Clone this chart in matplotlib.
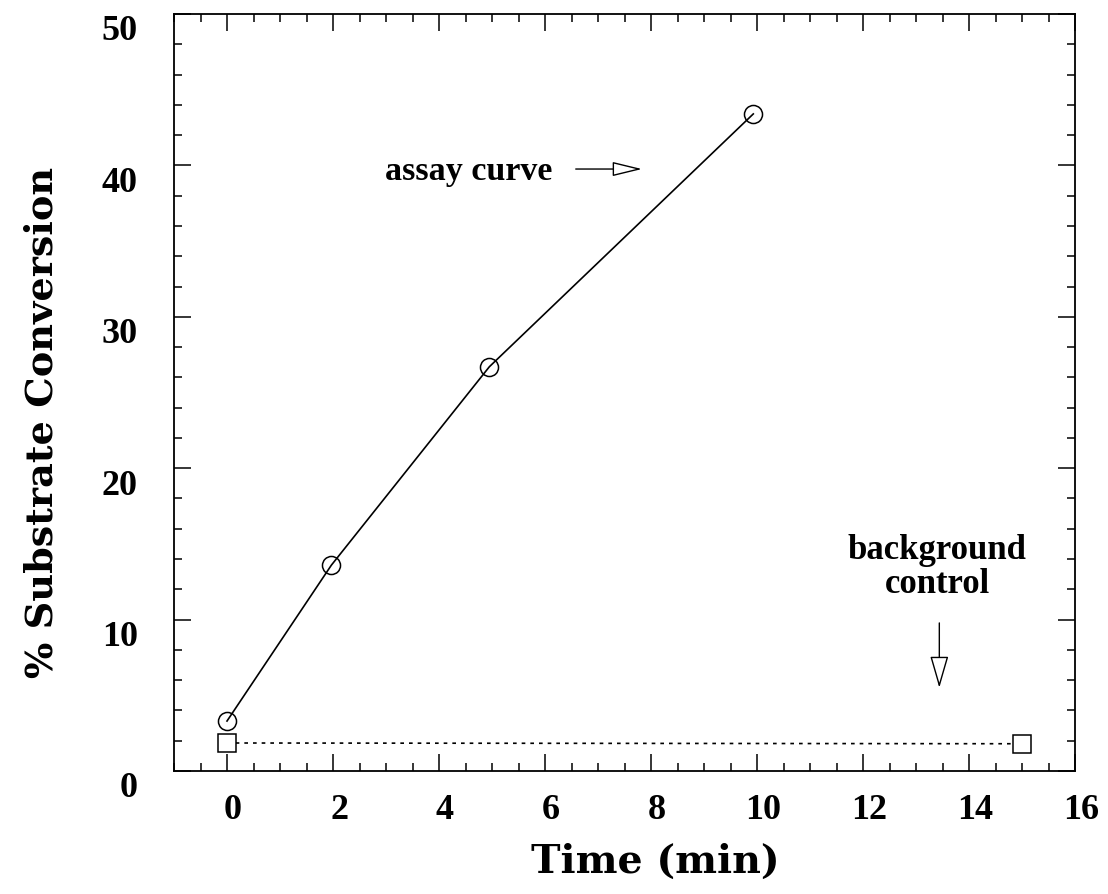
import matplotlib
matplotlib.use("Agg")
from matplotlib import pyplot as plt
from matplotlib.ticker import MultipleLocator
from matplotlib.transforms import ScaledTranslation

# values
assay_time = [0.0, 1.97, 4.95, 9.93]
assay_conv = [3.3, 13.6, 26.7, 43.4]
control_time = [0.0, 15.0]
control_conv = [1.85, 1.8]

plt.rcParams["font.family"] = ["Liberation Serif", "DejaVu Serif"]
plt.rcParams["font.weight"] = "bold"

fig = plt.figure(figsize=(11.08, 8.95), dpi=100)
ax = fig.add_axes([174 / 1108, 123 / 895, 901 / 1108, 757 / 895])

ax.plot(assay_time, assay_conv, color="black", linewidth=1.2, marker="o",
        markersize=13, markerfacecolor="none", markeredgecolor="black", markeredgewidth=1.1)
ax.plot(control_time, control_conv, color="black", linewidth=1.2, linestyle=(0, (2.2, 3.0)),
        marker="s", markersize=13, markerfacecolor="white", markeredgecolor="black",
        markeredgewidth=1.1)

ax.set_xlim(-1, 16)
ax.set_ylim(0, 50)
ax.xaxis.set_major_locator(MultipleLocator(2))
ax.xaxis.set_minor_locator(MultipleLocator(0.5))
ax.yaxis.set_major_locator(MultipleLocator(10))
ax.yaxis.set_minor_locator(MultipleLocator(2))

ax.tick_params(which="both", direction="in", top=True, right=True, width=1.1, color="black")
ax.tick_params(which="major", length=12)
ax.tick_params(which="minor", length=6)
ax.tick_params(axis="x", which="major", labelsize=26, pad=16)
ax.tick_params(axis="y", which="major", labelsize=26, pad=26)
for sp in ax.spines.values():
    sp.set_linewidth(1.3)

# tick labels in the original sit a little off their ticks
dx = ScaledTranslation(6 / 100, 0, fig.dpi_scale_trans)
dy = ScaledTranslation(0, -13 / 100, fig.dpi_scale_trans)
for lab in ax.get_xticklabels():
    lab.set_transform(lab.get_transform() + dx)
for lab in ax.get_yticklabels():
    lab.set_transform(lab.get_transform() + dy)

ax.set_xlabel("Time (min)", fontsize=28.5, fontweight="bold", family="DejaVu Serif")
ax.set_ylabel("% Substrate Conversion", fontsize=27.5, fontweight="bold", family="DejaVu Serif")
ax.xaxis.label.set_va("center")
ax.yaxis.label.set_va("center")
ax.xaxis.set_label_coords(0.534, -0.119)
ax.yaxis.set_label_coords(-0.146, 0.462)

ax.text(4.56, 39.1, "assay curve", fontsize=24.5, fontweight="bold", ha="center", va="baseline")
ax.annotate("", xy=(7.83, 39.76), xytext=(6.58, 39.76),
            arrowprops=dict(arrowstyle="-|>,head_length=1.85,head_width=0.45", mutation_scale=10,
                            facecolor="white", edgecolor="black", linewidth=1.0,
                            shrinkA=0, shrinkB=0))

ax.text(13.4, 11.8, "background\ncontrol", fontsize=25, fontweight="bold", ha="center",
        va="baseline", multialignment="center", linespacing=1.05)
ax.annotate("", xy=(13.44, 5.5), xytext=(13.44, 9.78),
            arrowprops=dict(arrowstyle="-|>,head_length=2.0,head_width=0.58", mutation_scale=10,
                            facecolor="white", edgecolor="black", linewidth=1.0,
                            shrinkA=0, shrinkB=0))

fig.savefig("out.png", dpi=100, facecolor="white")
